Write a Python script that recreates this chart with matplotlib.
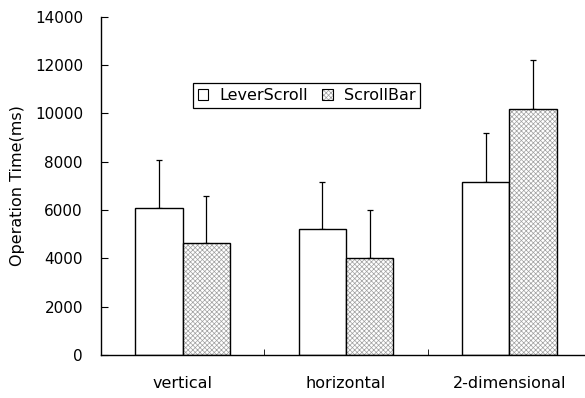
import matplotlib.pyplot as plt
from matplotlib.patches import Patch
from matplotlib.legend_handler import HandlerTuple
import numpy as np

plt.rcParams.update({
    "font.family": "DejaVu Sans",
    "font.size": 11,
    "hatch.linewidth": 0.5,
})

categories = ["vertical", "horizontal", "2-dimensional"]
lever_mean = [6100, 5200, 7150]
lever_sd = [1950, 1950, 2050]
scroll_mean = [4650, 4000, 10200]
scroll_sd = [1950, 2000, 2000]
y_ticks = [0, 2000, 4000, 6000, 8000, 10000, 12000, 14000]

fig = plt.figure(figsize=(5.85, 3.98), dpi=100)
ax = fig.add_axes([101 / 585, 43 / 398, 490 / 585, 338.3 / 398])

x = np.arange(len(categories))
w = 0.29

# LeverScroll: plain white bars
ax.bar(x - w / 2, lever_mean, w, color="white", edgecolor="black", linewidth=1.0, zorder=2)
ax.errorbar(x - w / 2, lever_mean, yerr=[np.zeros(3), lever_sd], fmt="none",
            ecolor="black", elinewidth=0.9, capsize=2, capthick=0.9, zorder=1)

# ScrollBar: fine grey crosshatch + black outline
ax.bar(x + w / 2, scroll_mean, w, color="white", edgecolor="#a0a0a0", hatch="xxxxxxx",
       linewidth=0, zorder=2)
ax.bar(x + w / 2, scroll_mean, w, fill=False, edgecolor="black", linewidth=1.0, zorder=3)
ax.errorbar(x + w / 2, scroll_mean, yerr=[np.zeros(3), scroll_sd], fmt="none",
            ecolor="black", elinewidth=0.9, capsize=2, capthick=0.9, zorder=1)

ax.set_xlim(-0.5, 2.5)
ax.set_ylim(0, 14000)
ax.set_yticks(y_ticks)
ax.set_yticklabels([str(t) for t in y_ticks])
ax.tick_params(axis="y", direction="in", length=5, pad=13, labelsize=11)

ax.set_xticks(x)
ax.set_xticklabels(categories)
ax.tick_params(axis="x", which="major", length=0, pad=15, labelsize=11.5)
ax.set_xticks([0.5, 1.5], minor=True)
ax.tick_params(axis="x", which="minor", direction="in", length=4)

ax.spines["top"].set_visible(False)
ax.spines["right"].set_visible(False)
ax.spines["left"].set_linewidth(1.0)
ax.spines["bottom"].set_linewidth(1.0)

ax.set_ylabel("Operation Time(ms)", fontsize=11.5, labelpad=7)

h_lever = Patch(facecolor="white", edgecolor="black", linewidth=0.8)
h_scroll_fill = Patch(facecolor="white", edgecolor="#a0a0a0", hatch="xxxxxxx", linewidth=0)
h_scroll_edge = Patch(fill=False, edgecolor="black", linewidth=0.8)
leg = ax.legend([h_lever, (h_scroll_fill, h_scroll_edge)], ["LeverScroll", "ScrollBar"],
                handler_map={tuple: HandlerTuple(ndivide=1, pad=0)},
                ncol=2, loc="upper left", bbox_to_anchor=((193 - 101) / 490, 1 - (83 - 16.7) / 338.3),
                fancybox=False, framealpha=1, edgecolor="black", handlelength=0.65,
                handleheight=0.7, handletextpad=0.7, columnspacing=0.9,
                borderpad=0.3, borderaxespad=0, fontsize=11.5)
leg.get_frame().set_linewidth(0.9)

fig.savefig("out.png", dpi=100)
